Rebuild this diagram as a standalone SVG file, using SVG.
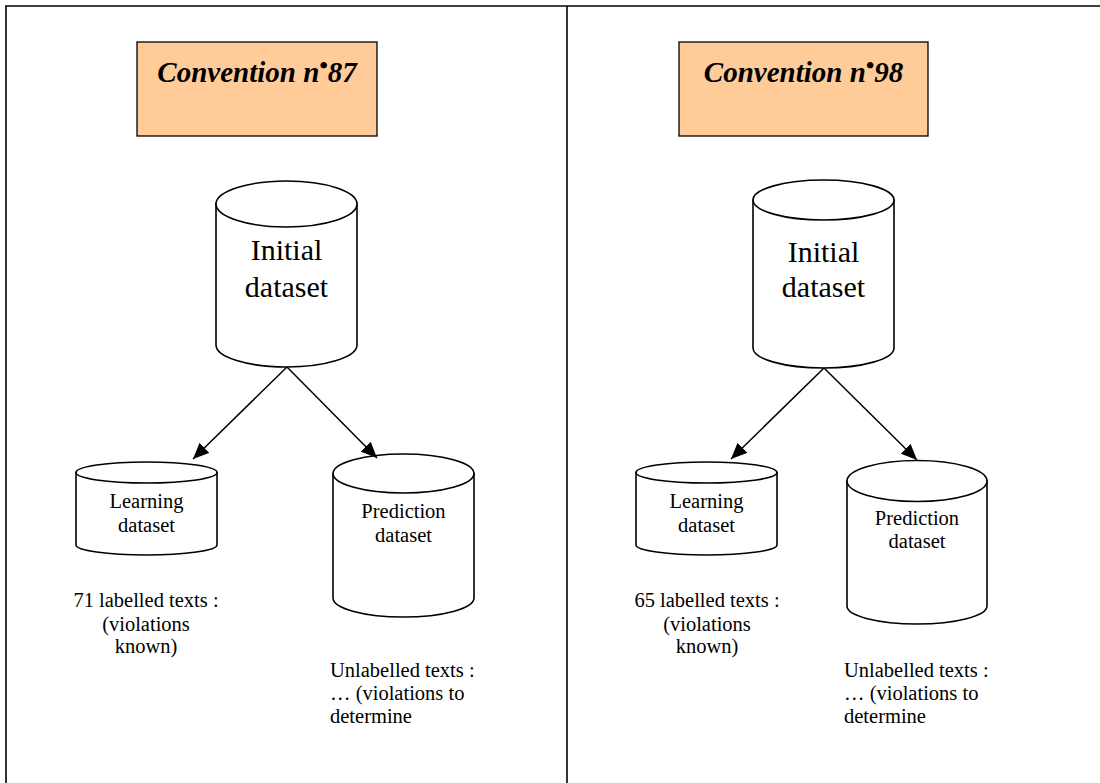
<svg xmlns="http://www.w3.org/2000/svg" width="1100" height="783" viewBox="0 0 1100 783">
<defs>
<marker id="ah" markerUnits="userSpaceOnUse" markerWidth="18" markerHeight="14" refX="16" refY="7" orient="auto">
<polygon points="0,0 16,7 0,14" fill="#000"/>
</marker>
<style>
.frame{stroke:#000;stroke-width:1.6;fill:none}
.box{fill:#FFCC99;stroke:#000;stroke-width:1.3}
.cyl{fill:#fff;stroke:#000;stroke-width:1.6}
.title{font-weight:bold;font-style:italic;font-size:29px;text-anchor:middle}
.big{font-size:30px;text-anchor:middle}
.mid{font-size:20.5px;text-anchor:middle}
.lbl{font-size:20.5px}
.conn{stroke:#000;stroke-width:1.5;fill:none}
</style>
</defs>
<rect width="1100" height="783" fill="#fff"/>
<g id="frame">
<line class="frame" x1="5" y1="6" x2="1100" y2="6"/>
<line class="frame" x1="6" y1="6" x2="6" y2="783"/>
<line class="frame" x1="567" y1="6" x2="567" y2="783"/>
</g>
<g font-family="Liberation Serif, Times New Roman, serif">
<g id="conv87">
<rect class="box" x="137" y="42" width="240" height="94"/>
<text class="title" x="257" y="82">Convention n<tspan dy="-9" font-size="24">•</tspan><tspan dy="9">87</tspan></text>
</g>
<g id="conv98">
<rect class="box" x="679" y="42" width="249" height="94"/>
<text class="title" x="803.5" y="82">Convention n<tspan dy="-9" font-size="24">•</tspan><tspan dy="9">98</tspan></text>
</g>
<g id="initial87">
<path class="cyl" d="M216,204 L216,345 A70.5,22 0 0 0 357,345 L357,204 Z"/>
<ellipse class="cyl" cx="286.5" cy="204" rx="70.5" ry="23"/>
<text class="big" x="286.5" y="260">Initial</text>
<text class="big" x="286.5" y="297">dataset</text>
</g>
<g id="learning87">
<path class="cyl" d="M76,472.5 L76,545 A70.5,10 0 0 0 217,545 L217,472.5 Z"/>
<ellipse class="cyl" cx="146.5" cy="472.5" rx="70.5" ry="10.5"/>
<text class="mid" x="146.5" y="508">Learning</text>
<text class="mid" x="146.5" y="532">dataset</text>
</g>
<g id="prediction87">
<path class="cyl" d="M333,473.5 L333,598 A70.5,19 0 0 0 474,598 L474,473.5 Z"/>
<ellipse class="cyl" cx="403.5" cy="473.5" rx="70.5" ry="19.5"/>
<text class="mid" x="403.5" y="518">Prediction</text>
<text class="mid" x="403.5" y="542">dataset</text>
</g>
<g id="labels87">
<text class="mid" x="146" y="607">71 labelled texts :</text>
<text class="mid" x="146" y="631">(violations</text>
<text class="mid" x="146" y="653">known)</text>
<text class="lbl" x="330" y="677">Unlabelled texts :</text>
<text class="lbl" x="330" y="700">… (violations to</text>
<text class="lbl" x="330" y="723">determine</text>
</g>
<g id="initial98">
<path class="cyl" d="M753,200 L753,348 A70.5,20 0 0 0 894,348 L894,200 Z"/>
<ellipse class="cyl" cx="823.5" cy="200" rx="70.5" ry="20"/>
<text class="big" x="823.5" y="262">Initial</text>
<text class="big" x="823.5" y="297">dataset</text>
</g>
<g id="learning98">
<path class="cyl" d="M636,472.5 L636,545 A70.5,10 0 0 0 777,545 L777,472.5 Z"/>
<ellipse class="cyl" cx="706.5" cy="472.5" rx="70.5" ry="10.5"/>
<text class="mid" x="706.5" y="508">Learning</text>
<text class="mid" x="706.5" y="532">dataset</text>
</g>
<g id="prediction98">
<path class="cyl" d="M847,481 L847,606 A70,18 0 0 0 987,606 L987,481 Z"/>
<ellipse class="cyl" cx="917" cy="481" rx="70" ry="20.5"/>
<text class="mid" x="917" y="525">Prediction</text>
<text class="mid" x="917" y="548">dataset</text>
</g>
<g id="labels98">
<text class="mid" x="707" y="607">65 labelled texts :</text>
<text class="mid" x="707" y="631">(violations</text>
<text class="mid" x="707" y="653">known)</text>
<text class="lbl" x="844" y="677">Unlabelled texts :</text>
<text class="lbl" x="844" y="700">… (violations to</text>
<text class="lbl" x="844" y="723">determine</text>
</g>
</g>
<g id="connectors">
<line class="conn" x1="287" y1="367" x2="193" y2="459" marker-end="url(#ah)"/>
<line class="conn" x1="287" y1="367" x2="377" y2="458" marker-end="url(#ah)"/>
<line class="conn" x1="824" y1="368" x2="731" y2="459" marker-end="url(#ah)"/>
<line class="conn" x1="824" y1="368" x2="917" y2="460" marker-end="url(#ah)"/>
</g>
</svg>
